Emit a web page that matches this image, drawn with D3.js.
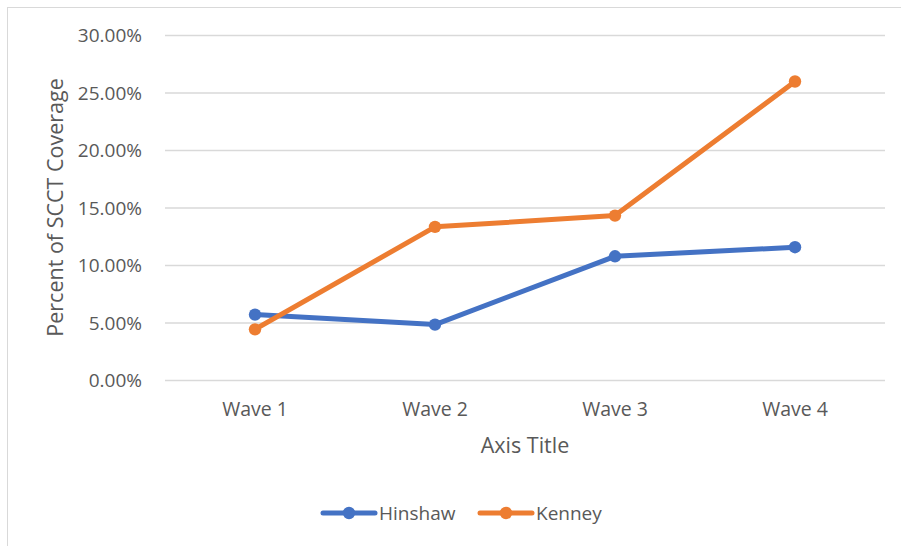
<!DOCTYPE html>
<html>
<head>
<meta charset="utf-8">
<script src="https://cdn.jsdelivr.net/npm/d3@7"></script>
<style>
  body { margin: 0; background: #fff; }
  text { font-family: "Open Sans", "Noto Sans", sans-serif; fill: #595959; }
</style>
</head>
<body>
<svg id="chart"></svg>
<script>
// data
const waves = ["Wave 1", "Wave 2", "Wave 3", "Wave 4"];
const hinshaw = [0.0573, 0.0486, 0.1080, 0.1159];
const kenney = [0.0445, 0.1336, 0.1434, 0.2600];
const yTicks = [0, 0.05, 0.10, 0.15, 0.20, 0.25, 0.30];
const seriesNames = ["Hinshaw", "Kenney"];
const colors = ["#4472C4", "#ED7D31"];

const width = 901, height = 546;
const svg = d3.select("#chart").attr("width", width).attr("height", height);

// outer frame
svg.append("rect")
    .attr("x", 7.5).attr("y", 7.5)
    .attr("width", 910).attr("height", 560)
    .attr("fill", "none").attr("stroke", "#d9d9d9").attr("stroke-width", 1);

const plot = { left: 165, right: 885, top: 35.5, bottom: 380.5 };

const x = d3.scaleBand().domain(waves).range([plot.left, plot.right]);
const y = d3.scaleLinear().domain([0, 0.30]).range([plot.bottom, plot.top]);

// gridlines
svg.selectAll(".grid")
    .data(yTicks)
    .join("line")
    .attr("class", "grid")
    .attr("x1", plot.left).attr("x2", plot.right)
    .attr("y1", d => y(d)).attr("y2", d => y(d))
    .attr("stroke", "#d9d9d9").attr("stroke-width", 1.5);

// y tick labels
svg.selectAll(".ytick")
    .data(yTicks)
    .join("text")
    .attr("class", "ytick")
    .attr("x", 142).attr("y", d => y(d))
    .attr("dy", "0.35em")
    .attr("text-anchor", "end")
    .attr("font-size", 19)
    .text(d => d3.format(".2%")(d));

// x tick labels
svg.selectAll(".xtick")
    .data(waves)
    .join("text")
    .attr("class", "xtick")
    .attr("x", d => x(d) + x.bandwidth() / 2)
    .attr("y", 409)
    .attr("dy", "0.35em")
    .attr("text-anchor", "middle")
    .attr("font-size", 19.5)
    .text(d => d);

// axis titles
svg.append("text")
    .attr("x", (plot.left + plot.right) / 2).attr("y", 445)
    .attr("dy", "0.35em")
    .attr("text-anchor", "middle")
    .attr("font-size", 21.5)
    .text("Axis Title");

svg.append("text")
    .attr("transform", `translate(55,207.5) rotate(-90)`)
    .attr("dy", "0.35em")
    .attr("text-anchor", "middle")
    .attr("font-size", 21.5)
    .text("Percent of SCCT Coverage");

// lines
const line = d3.line()
    .x((d, i) => x(waves[i]) + x.bandwidth() / 2)
    .y(d => y(d));

[hinshaw, kenney].forEach((vals, s) => {
    svg.append("path")
        .datum(vals)
        .attr("d", line)
        .attr("fill", "none")
        .attr("stroke", colors[s])
        .attr("stroke-width", 5)
        .attr("stroke-linejoin", "round")
        .attr("stroke-linecap", "round");

    svg.selectAll(".pt" + s)
        .data(vals)
        .join("circle")
        .attr("class", "pt" + s)
        .attr("cx", (d, i) => x(waves[i]) + x.bandwidth() / 2)
        .attr("cy", d => y(d))
        .attr("r", 6.2)
        .attr("fill", colors[s]);
});

// legend
const legendX = [323, 480];
const legend = svg.selectAll(".legend")
    .data(seriesNames)
    .join("g")
    .attr("class", "legend")
    .attr("transform", (d, i) => `translate(${legendX[i]},513)`);

legend.append("line")
    .attr("x1", 0).attr("x2", 52)
    .attr("stroke", (d, i) => colors[i])
    .attr("stroke-width", 5)
    .attr("stroke-linecap", "round");

legend.append("circle")
    .attr("cx", 26).attr("r", 6.2)
    .attr("fill", (d, i) => colors[i]);

legend.append("text")
    .attr("x", 56)
    .attr("dy", "0.35em")
    .attr("font-size", 19)
    .text(d => d);
</script>
</body>
</html>
